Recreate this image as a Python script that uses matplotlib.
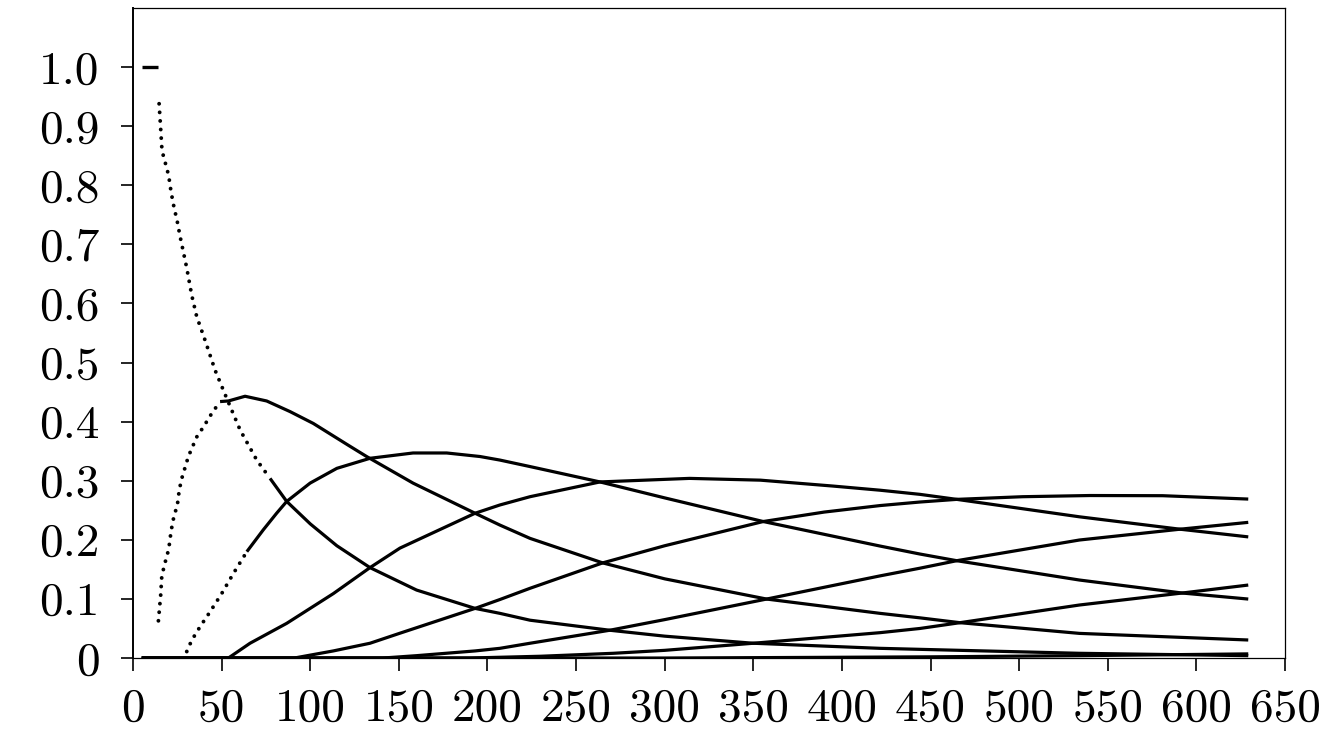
import matplotlib
matplotlib.use('Agg')
import matplotlib.pyplot as plt

plt.rcParams['font.family'] = 'cmr10'
plt.rcParams['axes.unicode_minus'] = False

# curves (x, probability)
x0 = [4.9, 14.3, 14.7, 15.6, 16.2, 17.3, 18.6, 20.1, 21.4, 22.6, 23.7, 24.8, 26.5, 30.3, 33.1,
      35.9, 40.6, 46.3, 52.5, 60.4, 69.8, 77.3, 86.7, 100, 115, 133.7, 160, 193, 207, 224,
      269, 300, 350, 421.5, 444, 534, 629.3]
p0 = [1.0, 1.0, 0.938, 0.895, 0.865, 0.846, 0.834, 0.816, 0.790, 0.770, 0.755, 0.741, 0.714, 0.660, 0.614,
      0.578, 0.538, 0.487, 0.442, 0.386, 0.335, 0.304, 0.265, 0.227, 0.190, 0.153, 0.115, 0.084, 0.0756, 0.064,
      0.047, 0.037, 0.025, 0.0164, 0.0147, 0.008, 0.004]

x1 = [14.3, 15.6, 16.2, 17.5, 18.6, 20.1, 21.3, 22.4, 23.7, 25.0, 26.1, 27.5, 31.2, 35.9, 39.7,
      44.4, 49.1, 53.8, 63.2, 75.4, 88.6, 101.7, 121.5, 131.8, 158, 193, 207, 224, 265, 300,
      357.5, 421.5, 444, 466.6, 534, 629.3]
p1 = [0.063, 0.107, 0.138, 0.155, 0.1675, 0.184, 0.211, 0.231, 0.246, 0.259, 0.285, 0.304, 0.341, 0.374, 0.391,
      0.414, 0.434, 0.435, 0.443, 0.435, 0.417, 0.397, 0.360, 0.341, 0.296, 0.245, 0.225, 0.2025, 0.161, 0.134,
      0.0998, 0.0756, 0.068, 0.0598, 0.0417, 0.0305]

x2 = [4.9, 30.3, 33.1, 37.8, 43.4, 50, 56.6, 64.2, 73.5, 81, 86.7, 99.9, 115, 133.7, 158, 177,
      195.8, 207, 224, 263.5, 300, 355.6, 421.5, 444, 464.8, 534, 592, 629.3]
p2 = [0, 0.011, 0.030, 0.053, 0.078, 0.109, 0.143, 0.180, 0.217, 0.245, 0.265, 0.296, 0.321, 0.338, 0.347, 0.347,
      0.341, 0.335, 0.324, 0.298, 0.271, 0.231, 0.1895, 0.176, 0.1647, 0.132, 0.110, 0.0998]

x3 = [4.9, 53.8, 66, 86.7, 113, 133.7, 150.6, 193, 207, 224, 263.5, 314, 354, 395, 421.5,
      444, 464.8, 534, 590.8, 629.3]
p3 = [0, 0, 0.025, 0.0587, 0.109, 0.153, 0.186, 0.245, 0.259, 0.273, 0.298, 0.304, 0.301, 0.291, 0.284,
      0.277, 0.2685, 0.239, 0.218, 0.205]

x4 = [4.9, 91, 113, 133.7, 150.6, 193, 207, 224, 265, 300, 355.6, 390, 421.5, 444, 464.8,
      502, 540, 581, 629.3]
p4 = [0, 0, 0.012, 0.025, 0.042, 0.084, 0.099, 0.118, 0.161, 0.190, 0.231, 0.247, 0.258, 0.264, 0.2685,
      0.273, 0.275, 0.2747, 0.269]

x5 = [4.9, 141, 160, 193, 207, 224, 269, 300, 357.5, 421.5, 444, 464.8, 534, 590.8, 629.3]
p5 = [0, 0, 0.004, 0.012, 0.0164, 0.025, 0.047, 0.065, 0.0998, 0.139, 0.152, 0.1647, 0.1997, 0.218, 0.2296]

x6 = [4.9, 190, 230, 271, 300, 350, 421.5, 444, 466.6, 534, 592, 629.3]
p6 = [0, 0, 0.003, 0.008, 0.013, 0.025, 0.0429, 0.050, 0.0598, 0.0897, 0.110, 0.1235]

x7 = [4.9, 300, 380, 450, 534, 629.3]
p7 = [0, 0, 0.001, 0.002, 0.004, 0.007]

xticks = [0, 50, 100, 150, 200, 250, 300, 350, 400, 450, 500, 550, 600, 650]
yticks = [0, 0.1, 0.2, 0.3, 0.4, 0.5, 0.6, 0.7, 0.8, 0.9, 1.0]
ytick_labels = ['0', '0.1', '0.2', '0.3', '0.4', '0.5', '0.6', '0.7', '0.8', '0.9', '1.0']

# stretch of each curve drawn as separate dots: (from, to)
dotted = {0: (14.7, 80), 1: (14.3, 49.1), 2: (30.3, 64.2)}

fig = plt.figure(figsize=(13.24, 7.30), dpi=100)
ax = fig.add_axes([0.1005, 0.0986, 0.8700, 0.8904])

curves = [(x0, p0), (x1, p1), (x2, p2), (x3, p3), (x4, p4), (x5, p5), (x6, p6), (x7, p7)]
for i, (xs, ys) in enumerate(curves):
    if i in dotted:
        lo, hi = dotted[i]
        pre = [(a, b) for a, b in zip(xs, ys) if a < lo]
        mid = [(a, b) for a, b in zip(xs, ys) if lo <= a <= hi]
        post = [(a, b) for a, b in zip(xs, ys) if a >= hi or (a < hi and a == mid[-1][0])]
        if len(pre) > 1:
            ax.plot(*zip(*pre), color='black', lw=2.4, solid_capstyle='butt')
        ax.plot(*zip(*mid), color='black', lw=2.8, linestyle=(0, (0.01, 2.2)),
                dash_capstyle='round')
        ax.plot(*zip(*post), color='black', lw=2.3, solid_capstyle='butt')
    else:
        ax.plot(xs, ys, color='black', lw=2.3, solid_capstyle='butt')

ax.set_xlim(0, 650)
ax.set_ylim(0, 1.1)
ax.set_xticks(xticks)
ax.set_xticklabels([str(v) for v in xticks])
ax.set_yticks(yticks)
ax.set_yticklabels(ytick_labels)
ax.tick_params(direction='out', length=9, width=1.2, labelsize=34)
ax.tick_params(axis='x', pad=13)
ax.tick_params(axis='y', pad=15)

for side in ['top', 'right', 'bottom']:
    ax.spines[side].set_linewidth(0.9)
ax.spines['left'].set_linewidth(1.4)

fig.savefig('out.png', dpi=100)
